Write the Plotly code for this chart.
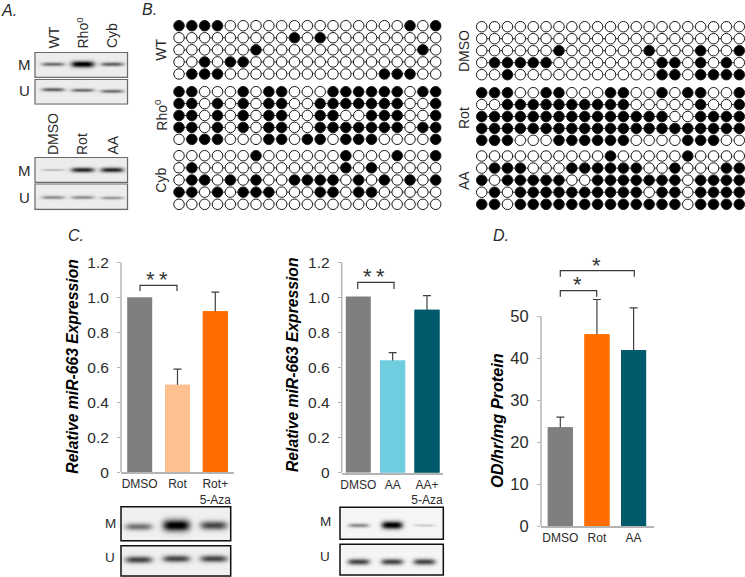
import numpy as np
import plotly.graph_objects as go

W, H = 745, 577

# ---------- data ----------
C1_labels = ["DMSO", "Rot", "Rot+<br>5-Aza"]
C1_values = [1.0, 0.5, 0.92]
C1_err = [None, 0.09, 0.11]
C2_labels = ["DMSO", "AA", "AA+<br>5-Aza"]
C2_values = [1.005, 0.64, 0.93]
C2_err = [None, 0.045, 0.08]
D_labels = ["DMSO", "Rot", "AA"]
D_values = [23.6, 45.7, 42.0]
D_err = [2.4, 8.3, 10.0]
C_ticks = [0, 0.2, 0.4, 0.6, 0.8, 1.0, 1.2]
C_ticktext = ["0", "0.2", "0.4", "0.6", "0.8", "1.0", "1.2"]
D_ticks = [0, 10, 20, 30, 40, 50]

# filled CpG positions, one list per clone
WT = [[0, 1, 2, 3, 18, 20], [9, 11], [6, 19], [2, 4, 5], [1, 2, 3, 16, 17, 18]]
Rho0 = [[0, 1, 5, 7, 8, 12, 13, 14, 15, 16, 17, 19, 20],
        [0, 1, 3, 5, 7, 8, 11, 12, 13, 14, 15, 16, 17, 20],
        [0, 1, 3, 5, 7, 8, 11, 12, 15, 16, 17, 20],
        [0, 1, 3, 5, 7, 8, 11, 12, 13, 14, 15, 16, 17, 19, 20],
        [1, 2, 3, 7, 8, 10, 11, 13, 14, 15, 20]]
Cyb = [[6, 13, 17, 20], [1, 13, 15],
       [1, 2, 4, 6, 9, 10, 11, 12, 14, 16, 18, 20],
       [0, 1, 3, 5, 6, 7, 11, 12, 14, 15], []]
DMSO = [[], [], [6, 13, 17, 20], [1, 2, 3, 4, 5, 14, 15, 17, 19],
        [2, 14, 15, 17, 18, 19, 20]]
Rot = [[0, 1, 2, 5, 6, 10, 11, 14, 16, 17, 20],
       [2, 3, 4, 5, 6, 7, 8, 9, 10, 11, 17, 20],
       [0, 1, 2, 3, 4, 5, 6, 7, 8, 9, 10, 11, 12, 13, 14, 17, 18, 19, 20],
       [0, 1, 2, 3, 4, 5, 6, 7, 8, 9, 10, 11, 12, 13, 14, 15, 16, 17, 18, 19, 20],
       [0, 1, 2, 6, 7, 8, 9, 10, 11, 16, 17, 18]]
AA = [[10, 16], [1, 2, 3, 7, 8, 9, 10, 11, 12, 15, 19, 20],
      [0, 2, 3, 4, 5, 6, 9, 10, 11, 12, 13, 14, 15, 17, 18, 19, 20],
      [1, 3, 4, 5, 6, 7, 8, 9, 10, 11, 12, 14, 15, 17, 18, 19, 20],
      [0, 1, 3, 4, 5, 6, 7, 8, 9, 10, 11, 12, 13, 14, 15, 17, 18, 19, 20]]

# gel band intensities (0-1)
gelA1_M = [0.5, 1.0, 0.55]
gelA1_U = [0.55, 0.5, 0.5]
gelA2_M = [0.2, 0.8, 0.8]
gelA2_U = [0.38, 0.38, 0.33]
gelC1_M = [0.5, 1.0, 0.68]
gelC1_U = [0.68, 0.68, 0.68]
gelC2_M = [0.4, 1.0, 0.15]
gelC2_U = [0.68, 0.68, 0.68]

GRAY, PEACH, ORANGE, SKY, TEAL = "#7F7F7F", "#FFC08F", "#FF6D00", "#6FCDE0", "#005A6B"
TXT = "#2b2b2b"
AXC = "#B4B4B4"
FONT = "Liberation Sans, Arial, sans-serif"


def xdom(a, b):
    return [a / W, b / W]


def ydom(top, bottom):
    return [1 - bottom / H, 1 - top / H]


fig = go.Figure()
layout = {}
annots = []
shapes = []


# ---------- bar panels ----------
def bar_panel(n, left, right, top, bottom, centers, labels, values, err, colors,
              ticks, ticktext, yrange, axis_top, tfs, lfs, errcolor):
    sp = (centers[2] - centers[0]) / 2
    hidden = 2.5 * (yrange[1] - yrange[0]) / (bottom - top)
    keep = [i for i, e in enumerate(err) if e is not None]
    # whiskers are drawn first, then the bars cover their lower ends
    fig.add_trace(go.Bar(
        x=keep, y=[values[i] for i in keep], width=25 / sp, marker=dict(color=[colors[i] for i in keep], line_width=0),
        error_y=dict(type="data", symmetric=False, array=[err[i] for i in keep],
                     arrayminus=[hidden] * len(keep), color=errcolor, thickness=1.2, width=4),
        cliponaxis=False, xaxis=f"x{n}", yaxis=f"y{n}", showlegend=False))
    fig.add_trace(go.Bar(
        x=[0, 1, 2], y=values, width=25 / sp, marker=dict(color=colors, line_width=0),
        cliponaxis=False, xaxis=f"x{n}", yaxis=f"y{n}", showlegend=False))
    layout[f"xaxis{n}"] = dict(
        domain=xdom(left, right), range=[(left - centers[0]) / sp, (right - centers[0]) / sp],
        tickmode="array", tickvals=[0, 1, 2], ticktext=labels, ticks="", automargin=False,
        tickfont=dict(size=lfs, color=TXT, family=FONT), showline=True, linecolor=AXC,
        linewidth=1.5, showgrid=False, zeroline=False, anchor=f"y{n}", ticklabelstandoff=0)
    layout[f"yaxis{n}"] = dict(
        domain=ydom(top, bottom), range=yrange, tickmode="array", tickvals=ticks,
        ticktext=ticktext, ticks="outside", ticklen=3, tickcolor=AXC, tickwidth=1, automargin=False,
        tickfont=dict(size=tfs, color=TXT, family=FONT), showline=False,
        showgrid=False, zeroline=False, anchor=f"x{n}", ticklabelstandoff=5)
    # the axis line stops at the top tick even where an error bar rises above it
    shapes.append(dict(type="line", xref=f"x{n} domain", yref=f"y{n}", x0=0, x1=0, y0=0, y1=axis_top,
                       line=dict(color=AXC, width=1.5), layer="above"))


bar_panel(11, 121, 234, 262.3, 472.3, [139.7, 177.5, 215.3], C1_labels, C1_values, C1_err,
          [GRAY, PEACH, ORANGE], C_ticks, C_ticktext, [0, 1.2], 1.2, 15.5, 12, "#404040")
bar_panel(2, 341.7, 443, 262.3, 472.7, [358.3, 392.5, 427], C2_labels, C2_values, C2_err,
          [GRAY, SKY, TEAL], C_ticks, C_ticktext, [0, 1.2], 1.2, 15.5, 12, "#404040")
bar_panel(3, 541, 654.3, 526.3 - 56 * 4.2, 526.3, [560.3, 596.8, 633.6], D_labels, D_values, D_err,
          [GRAY, ORANGE, TEAL], D_ticks, [str(t) for t in D_ticks], [0, 56], 50, 16.5, 12, "#404040")


# ---------- lollipop (bisulfite) grids ----------
def lollipop(n, left, right, top, bottom, rows):
    cols = list(range(21))
    lx, ly, px, py, pc = [], [], [], [], []
    for r, filled in enumerate(rows):
        lx += cols + [None]
        ly += [r] * 21 + [None]
        for c in cols:
            px.append(c)
            py.append(r)
            pc.append("black" if c in filled else "white")
    fig.add_trace(go.Scatter(x=lx, y=ly, mode="lines", line=dict(color="#333333", width=1),
                             xaxis=f"x{n}", yaxis=f"y{n}", showlegend=False, cliponaxis=False))
    fig.add_trace(go.Scatter(x=px, y=py, mode="markers",
                             marker=dict(size=10.5, color=pc, line=dict(color="#1a1a1a", width=1)),
                             xaxis=f"x{n}", yaxis=f"y{n}", showlegend=False, cliponaxis=False))
    layout[f"xaxis{n}"] = dict(domain=xdom(left, right), range=[0, 20], visible=False,
                               anchor=f"y{n}", automargin=False)
    layout[f"yaxis{n}"] = dict(domain=ydom(top, bottom), range=[4, 0], visible=False,
                               anchor=f"x{n}", automargin=False)


lollipop(4, 179, 435.7, 25.7, 74, WT)
lollipop(5, 179, 435.7, 91.7, 139.3, Rho0)
lollipop(6, 179, 435.7, 155.7, 204.3, Cyb)
lollipop(7, 481.7, 739.3, 26.7, 74.7, DMSO)
lollipop(8, 481.7, 739.3, 92.7, 140.3, Rot)
lollipop(9, 481.7, 739.3, 156, 204.3, AA)

# ---------- overlay axes in image pixels: gels, brackets, labels ----------
OV = 10
layout[f"xaxis{OV}"] = dict(domain=[0, 1], range=[0, W], visible=False, anchor=f"y{OV}", automargin=False)
layout[f"yaxis{OV}"] = dict(domain=[0, 1], range=[H, 0], visible=False, anchor=f"x{OV}", automargin=False)


def gel(x0, x1, y0, y1, centers, ycs, intens, bw, bh, bg, border, bwid):
    xs = np.arange(x0, x1 + 1.0, 1.0)
    ys = np.arange(y0, y1 + 1.0, 1.0)
    X, Y = np.meshgrid(xs, ys)
    z = np.full(X.shape, float(bg))
    for c, yc, i in zip(centers, ycs, intens):
        band = np.exp(-((np.abs(X - c) / (bw / 2)) ** 4)) * np.exp(-(((Y - yc) / (bh * (0.3 + 0.9 * i))) ** 2))
        z -= band * i * bg * 1.05
    z = np.clip(z, 0, 255)
    fig.add_trace(go.Heatmap(x=xs, y=ys, z=z, zmin=0, zmax=255, showscale=False,
                             colorscale=[[0, "black"], [1, "white"]], hoverinfo="skip",
                             xaxis=f"x{OV}", yaxis=f"y{OV}"))
    shapes.append(dict(type="rect", xref=f"x{OV}", yref=f"y{OV}", x0=x0, x1=x1, y0=y0, y1=y1,
                       line=dict(color=border, width=bwid), layer="above"))


A = [52.7, 82.3, 111.7]
gel(35, 127.5, 52.5, 77.3, A, [64.3] * 3, gelA1_M, 23, 2.6, 236, "#6a6a6a", 1.2)
gel(35, 127.5, 79.5, 104, A, [89.7, 90.3, 91.3], gelA1_U, 23, 2.4, 236, "#6a6a6a", 1.2)
gel(35, 127.5, 157.5, 182.3, A, [170] * 3, gelA2_M, 23, 2.4, 236, "#6a6a6a", 1.2)
gel(35, 127.5, 184, 209.3, A, [197, 197, 197.5], gelA2_U, 23, 2.8, 236, "#6a6a6a", 1.2)
C1 = [138.3, 176, 213.3]
gel(121, 230.7, 506.7, 540.7, C1, [527, 525.7, 525.7], gelC1_M, 27, 4.8, 240, "#111111", 1.5)
gel(121, 230.7, 545.7, 576, C1, [560, 559, 559], gelC1_U, 27, 3.8, 240, "#111111", 1.5)
C2 = [358.3, 391.7, 424]
gel(340, 443.3, 507.3, 539.3, C2, [525.3, 525, 525.3], gelC2_M, 21, 3.2, 245, "#111111", 1.5)
gel(340, 443.3, 544.3, 575, C2, [561.7] * 3, gelC2_U, 22, 3.4, 245, "#111111", 1.5)


def bracket(xl, xr, ytop, ybot):
    fig.add_trace(go.Scatter(x=[xl, xl, xr, xr], y=[ybot, ytop, ytop, ybot], mode="lines",
                             line=dict(color="#3a3a3a", width=1.2), xaxis=f"x{OV}", yaxis=f"y{OV}",
                             showlegend=False, hoverinfo="skip"))


bracket(140, 177, 285.3, 291)
bracket(357.7, 394, 282.3, 289)
bracket(560.3, 596.7, 290.7, 296.7)
bracket(560.3, 634.3, 270.7, 276.7)


def text(x, y, s, size, angle=0, xa="center", ya="middle", color=TXT, family=FONT, style="normal", weight="normal"):
    annots.append(dict(x=x, y=y, xref=f"x{OV}", yref=f"y{OV}", text=s, showarrow=False,
                       font=dict(size=size, color=color, family=family, style=style, weight=weight),
                       textangle=angle, xanchor=xa, yanchor=ya, borderpad=0, borderwidth=0))


# panel letters
text(1, 10, "A.", 16, xa="left", style="italic")
text(142, 9, "B.", 16, xa="left", style="italic")
text(68, 235, "C.", 16, xa="left", style="italic")
text(493, 235, "D.", 16, xa="left", style="italic")
# axis titles
text(73, 366.7, "Relative miR-663 Expression", 15.7, angle=-90, color="black", style="italic", weight="bold")
text(292, 365, "Relative miR-663 Expression", 15.7, angle=-90, color="black", style="italic", weight="bold")
text(497, 421, "OD/hr/mg Protein", 16.3, angle=-90, color="black", style="italic", weight="bold")
# gel side labels
for x, y, s in [(24.3, 64, "M"), (24.3, 90, "U"), (24.3, 170, "M"), (24.3, 197, "U")]:
    text(x, y, s, 15)
for x, y, s in [(110, 523, "M"), (110, 557.7, "U"), (325.3, 521, "M"), (325.3, 556, "U")]:
    text(x, y, s, 13.5)
# gel lane labels
for x, s in [(53, "WT"), (82, "Rho<sup>0</sup>"), (112, "Cyb")]:
    text(x, 48.5, s, 14, angle=-90, ya="bottom")
for x, s in [(53, "DMSO"), (82, "Rot"), (112, "AA")]:
    text(x, 155, s, 14, angle=-90, ya="bottom")
# methylation group labels
for x, y, s in [(160.7, 50, "WT"), (160.7, 115, "Rho<sup>0</sup>"), (160.7, 180, "Cyb"),
                (464, 51, "DMSO"), (464, 118, "Rot"), (464, 181, "AA")]:
    text(x, y, s, 14, angle=-90)
# significance marks
text(157, 279, "*\u2009*", 22, color="#333333")
text(374, 276, "*\u2009*", 22, color="#333333")
text(577.7, 284, "*", 22, color="#333333")
text(596, 265, "*", 22, color="#333333")

fig.update_layout(width=W, height=H, margin=dict(l=0, r=0, t=0, b=0), autosize=False,
                  paper_bgcolor="white", plot_bgcolor="rgba(0,0,0,0)", showlegend=False,
                  annotations=annots, shapes=shapes, barmode="overlay", **layout)
fig.write_html("out.html", config={"displayModeBar": False},
               post_script="document.body.style.margin='0';document.body.style.overflow='hidden';")
